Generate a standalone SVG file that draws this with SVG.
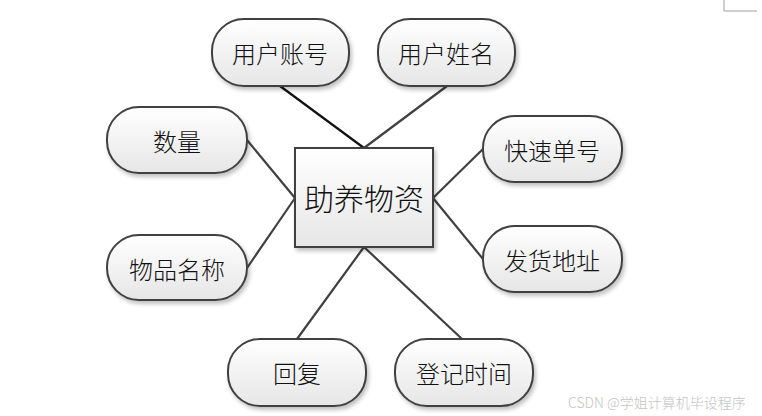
<svg xmlns="http://www.w3.org/2000/svg" width="762" height="416" viewBox="0 0 762 416">
<defs>
<linearGradient id="g" x1="0" y1="0" x2="0" y2="1">
<stop offset="0" stop-color="#ffffff"/>
<stop offset="1" stop-color="#e6e6e6"/>
</linearGradient>
<filter id="sh" x="-10%" y="-10%" width="130%" height="140%">
<feGaussianBlur in="SourceAlpha" stdDeviation="2"/>
<feOffset dx="2" dy="3" result="b"/>
<feComponentTransfer><feFuncA type="linear" slope="0.25"/></feComponentTransfer>
<feMerge><feMergeNode/><feMergeNode in="SourceGraphic"/></feMerge>
</filter>
</defs>
<style>
.n{fill:url(#g);stroke:#404040;stroke-width:2;filter:url(#sh)}
.t{font-family:"Noto Sans CJK SC","Noto Sans",sans-serif;font-size:24px;font-weight:300;fill:#111;text-anchor:middle;dominant-baseline:central}
.c{stroke:#404040;stroke-width:2.2;fill:none}
</style>
<rect width="762" height="416" fill="#ffffff"/>
<path d="M724 0V11H757" stroke="#a0a0a0" stroke-width="1" fill="none"/>
<g id="connectors">
<line class="c" x1="280" y1="86" x2="364" y2="148" style="stroke:#111"/>
<line class="c" x1="447" y1="86" x2="364" y2="148"/>
<line class="c" x1="247" y1="140" x2="295" y2="198"/>
<line class="c" x1="247" y1="268" x2="295" y2="198"/>
<line class="c" x1="433" y1="198" x2="483" y2="149"/>
<line class="c" x1="433" y1="198" x2="483" y2="259"/>
<line class="c" x1="297" y1="339" x2="364" y2="247"/>
<line class="c" x1="462" y1="339" x2="364" y2="247"/>
</g>
<g id="center">
<rect class="n" x="295" y="148" width="138" height="99"/>
<text class="t" x="364" y="197" style="font-size:30px">助养物资</text>
</g>
<g id="n1"><rect class="n" x="212" y="19" width="137" height="67" rx="32"/><text class="t" x="280" y="52">用户账号</text></g>
<g id="n2"><rect class="n" x="378" y="19" width="137" height="67" rx="32"/><text class="t" x="446" y="52">用户姓名</text></g>
<g id="n3"><rect class="n" x="107" y="107" width="140" height="66" rx="32"/><text class="t" x="177" y="140">数量</text></g>
<g id="n4"><rect class="n" x="107" y="235" width="140" height="65" rx="32"/><text class="t" x="177" y="268">物品名称</text></g>
<g id="n5"><rect class="n" x="483" y="116" width="139" height="66" rx="32"/><text class="t" x="552" y="149">快速单号</text></g>
<g id="n6"><rect class="n" x="483" y="226" width="139" height="66" rx="32"/><text class="t" x="552" y="259">发货地址</text></g>
<g id="n7"><rect class="n" x="228" y="339" width="138" height="67" rx="32"/><text class="t" x="297" y="372">回复</text></g>
<g id="n8"><rect class="n" x="395" y="339" width="138" height="67" rx="32"/><text class="t" x="464" y="372">登记时间</text></g>
<text x="568" y="408" font-family="'Noto Sans CJK SC','Noto Sans',sans-serif" font-size="14" font-weight="300" fill="#c4c4c4">CSDN @学姐计算机毕设程序</text>
</svg>
